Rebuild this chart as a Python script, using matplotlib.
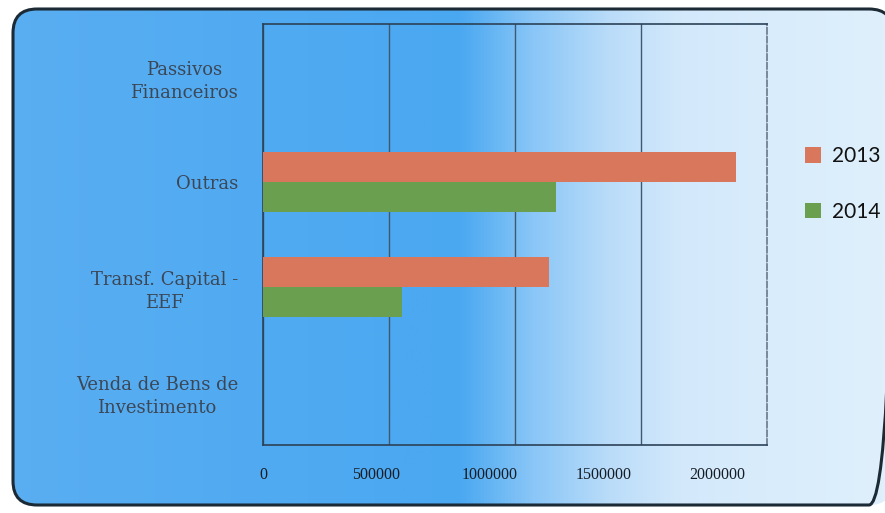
import numpy as np
import matplotlib.pyplot as plt
from matplotlib.patches import FancyBboxPatch
from matplotlib.colors import LinearSegmentedColormap
from matplotlib.transforms import ScaledTranslation

categories = ['Venda de Bens de\nInvestimento', 'Transf. Capital -\nEEF',
              'Outras', 'Passivos\nFinanceiros']
values_2013 = [0, 1135000, 1877000, 0]
values_2014 = [0, 552000, 1163000, 0]
xticks = [0, 500000, 1000000, 1500000, 2000000]

fig = plt.figure(figsize=(8.85, 5.13), dpi=100)
fig.patch.set_facecolor('white')

# background panel: rounded box with a left-to-right blue fade
bg = fig.add_axes([0, 0, 1, 1], zorder=-10)
bg.set_xlim(0, 885)
bg.set_ylim(513, 0)
bg.axis('off')
cmap = LinearSegmentedColormap.from_list('fade', [
    (0.0, '#5aaef1'), (0.52, '#4aa8f1'), (0.60, '#88c5f7'),
    (0.69, '#badcf9'), (0.77, '#d3e9fb'), (1.0, '#dff0fc')])
grad = np.linspace(0, 1, 512).reshape(1, -1)
img = bg.imshow(grad, extent=[0, 885, 513, 0], aspect='auto', cmap=cmap)
panel = FancyBboxPatch((13, 9), 880, 496, boxstyle='round,pad=0,rounding_size=24',
                       facecolor='none', edgecolor='#1c2a36', linewidth=2.2)
bg.add_patch(panel)
img.set_clip_path(panel)

ax = fig.add_axes([263 / 885, 1 - 445 / 513, 504 / 885, 421 / 513])
ax.patch.set_alpha(0)

y = np.arange(len(categories))
h = 0.285
ax.barh(y + h / 2, values_2013, height=h, color='#d9775c', label='2013', zorder=3)
ax.barh(y - h / 2, values_2014, height=h, color='#699f4f', label='2014', zorder=3)

ax.set_xlim(0, 2000000)
ax.set_ylim(-0.5, 3.5)
ax.set_xticks(xticks)
ax.set_xticklabels([str(v) for v in xticks], family='Liberation Serif',
                   fontsize=11.5, color='#161c24')
ax.set_yticks(y)
ax.set_yticklabels(categories, family='DejaVu Serif', fontsize=13,
                   color='#3b4756', multialignment='center', linespacing=1.35)
ax.tick_params(axis='x', length=0, pad=16)
ax.tick_params(axis='y', length=0, pad=18)

# tick labels sit a little left of their gridlines
for i, lab in enumerate(ax.get_xticklabels()):
    lab.set_transform(lab.get_transform() + ScaledTranslation(-0.125 * i, 0, fig.dpi_scale_trans))

ax.xaxis.grid(True, color='#3f5870', linewidth=1.0, zorder=1)
ax.yaxis.grid(False)
for side in ['left', 'bottom', 'top']:
    ax.spines[side].set_color('#2c4257')
    ax.spines[side].set_linewidth(1.2)
ax.spines['right'].set_color('#7a8a99')
ax.spines['right'].set_linestyle((0, (3, 1.5)))
ax.spines['right'].set_linewidth(1.4)

leg = fig.legend(loc='upper left', bbox_to_anchor=(797 / 885, 1 - 138 / 513),
                 frameon=False, prop={'family': 'Lato', 'size': 15},
                 handlelength=0.75, handleheight=0.75, handletextpad=0.55,
                 labelspacing=1.7, borderaxespad=0)
for t in leg.get_texts():
    t.set_color('#111111')

fig.savefig('out.png', dpi=100, facecolor=fig.get_facecolor())
